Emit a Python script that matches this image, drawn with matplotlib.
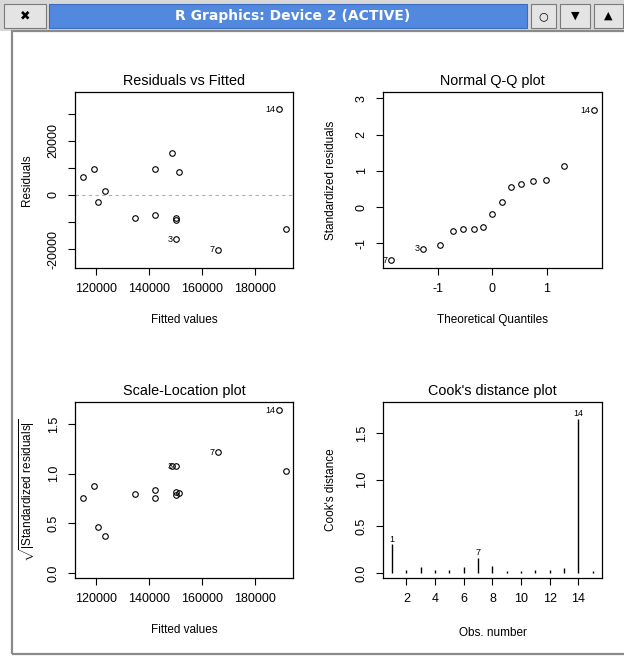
import numpy as np
import matplotlib
matplotlib.use('Agg')
import matplotlib.pyplot as plt
from matplotlib.patches import Rectangle

# data
fitted = [115320, 119360, 123500, 120980, 134830, 142380, 142380, 148680,
          151430, 150300, 150300, 150300, 165900, 188900, 191700]
resid = [6780, 9520, 1600, -2700, -8520, 9520, -7520, 15670,
         8640, -8630, -9370, -16400, -20370, 31850, -12480]
resid_lab = {11: "3", 12: "7", 13: "14"}

theo_q = [-1.846, -1.266, -0.960, -0.727, -0.532, -0.341, -0.165, 0.0,
          0.172, 0.349, 0.521, 0.741, 0.980, 1.316, 1.853]
std_res = [-1.467, -1.146, -1.036, -0.651, -0.588, -0.588, -0.550, -0.184,
           0.137, 0.558, 0.648, 0.722, 0.750, 1.143, 2.673]
qq_lab = {0: "7", 1: "3", 14: "14"}

sl_val = [0.759, 0.877, 0.374, 0.468, 0.793, 0.836, 0.759, 1.077,
          0.810, 0.816, 0.789, 1.077, 1.218, 1.640, 1.030]
sl_lab = {11: "3", 12: "7", 13: "14"}

obs = list(range(1, 16))
cook = [0.305, 0.035, 0.060, 0.030, 0.035, 0.060, 0.160, 0.070,
        0.017, 0.017, 0.035, 0.035, 0.054, 1.652, 0.020]
cook_lab = {0: "1", 6: "7", 13: "14"}

W, H = 624, 658
plt.rcParams['font.family'] = ['Liberation Sans', 'DejaVu Sans']
plt.rcParams['axes.unicode_minus'] = False
plt.rcParams['mathtext.fontset'] = 'custom'
plt.rcParams['mathtext.rm'] = 'Liberation Sans'
fig = plt.figure(figsize=(W / 100, H / 100), dpi=100)
fig.patch.set_facecolor('white')


def fx(x):
    return x / W


def fy(y):
    return 1 - y / H


def box(x0, y0, x1, y1, **kw):
    fig.add_artist(Rectangle((fx(x0), fy(y1)), fx(x1) - fx(x0), fy(y0) - fy(y1),
                             transform=fig.transFigure, **kw))


# window chrome
box(0, 0, W, 31, facecolor='#d8d8d8', edgecolor='none')
box(4, 4, 46, 28, facecolor='#e4e4e4', edgecolor='#7a7a7a', lw=0.8)
fig.text(fx(25), fy(16), u"\u2716", ha='center', va='center', fontsize=9,
         family='DejaVu Sans', color='black')
box(49, 4, 527, 28, facecolor='#5289df', edgecolor='#3a6cc0', lw=0.8)
fig.text(fx(293), fy(16), "R Graphics: Device 2 (ACTIVE)", ha='center', va='center',
         fontsize=10, weight='bold', family='DejaVu Sans', color='white')
for (a, b, sym) in [(531, 556, u"\u25cb"), (560, 590, u"\u25bc"), (594, 623, u"\u25b2")]:
    box(a, 4, b, 28, facecolor='#e4e4e4', edgecolor='#7a7a7a', lw=0.8)
    fig.text(fx((a + b) / 2), fy(16), sym, ha='center', va='center', fontsize=8,
             family='DejaVu Sans', color='black')
box(12, 31, W + 5, 654, facecolor='none', edgecolor='#8a8a8a', lw=1.6)


def make_ax(x0, y0, x1, y1):
    ax = fig.add_axes([fx(x0), fy(y1), fx(x1) - fx(x0), fy(y0) - fy(y1)])
    for s in ax.spines.values():
        s.set_linewidth(0.9)
    ax.tick_params(direction='out', length=5, width=0.8, labelsize=9, pad=6)
    return ax


def finish(ax, x0, y0, x1, y1, title, xlab, ylab, xlab_dy, ylab_dx):
    plt.setp(ax.get_yticklabels(), rotation=90, va='center')
    fig.text(fx((x0 + x1) / 2), fy(y0 - 11), title, ha='center', va='center', fontsize=10.4)
    fig.text(fx((x0 + x1) / 2), fy(y1 + xlab_dy), xlab, ha='center', va='center', fontsize=8.5)
    fig.text(fx(x0 - ylab_dx), fy((y0 + y1) / 2), ylab, ha='center', va='center',
             fontsize=8.5, rotation=90)


circ = dict(marker='o', ms=4, mfc='none', mec='black', mew=0.8, ls='none')
lab_fs = 6.5

# Residuals vs Fitted
p1 = (75, 92, 293, 268)
ax1 = make_ax(*p1)
ax1.axhline(0, color='#b0b0b0', lw=0.8, ls=(0, (3, 3)))
ax1.plot(fitted, resid, **circ)
for i, s in resid_lab.items():
    ax1.annotate(s, (fitted[i], resid[i]), xytext=(-2.5, 0), textcoords='offset points',
                 ha='right', va='center', fontsize=lab_fs)
ax1.set_xlim(112189, 194340)
ax1.set_ylim(-27037, 38148)
ax1.set_xticks([120000, 140000, 160000, 180000])
ax1.set_yticks([-20000, -10000, 0, 10000, 20000, 30000])
ax1.set_yticklabels(["-20000", "", "0", "", "20000", ""])
finish(ax1, *p1, "Residuals vs Fitted", "Fitted values", "Residuals", 52, 48)

# Normal Q-Q
p2 = (383, 92, 602, 268)
ax2 = make_ax(*p2)
ax2.plot(theo_q, std_res, **circ)
for i, s in qq_lab.items():
    ax2.annotate(s, (theo_q[i], std_res[i]), xytext=(-2.5, 0), textcoords='offset points',
                 ha='right', va='center', fontsize=lab_fs)
ax2.set_xlim(-2.0, 2.007)
ax2.set_ylim(-1.676, 3.176)
ax2.set_xticks([-1, 0, 1])
ax2.set_yticks([-1, 0, 1, 2, 3])
finish(ax2, *p2, "Normal Q-Q plot", "Theoretical Quantiles", "Standardized residuals", 52, 52)

# Scale-Location
p3 = (75, 402, 293, 578)
ax3 = make_ax(*p3)
ax3.plot(fitted, sl_val, **circ)
for i, s in sl_lab.items():
    ax3.annotate(s, (fitted[i], sl_val[i]), xytext=(-2.5, 0), textcoords='offset points',
                 ha='right', va='center', fontsize=lab_fs)
ax3.set_xlim(112189, 194340)
ax3.set_ylim(-0.05, 1.723)
ax3.set_xticks([120000, 140000, 160000, 180000])
ax3.set_yticks([0, 0.5, 1.0, 1.5])
ax3.set_yticklabels(["0.0", "0.5", "1.0", "1.5"])
finish(ax3, *p3, "Scale-Location plot", "Fitted values",
       r"$\sqrt{|\mathrm{Standardized\ residuals}|}$", 52, 48)

# Cook's distance
p4 = (383, 402, 602, 578)
ax4 = make_ax(*p4)
ax4.vlines(obs, 0, cook, colors='black', lw=1)
for i, s in cook_lab.items():
    ax4.annotate(s, (obs[i], cook[i]), xytext=(0, 0.5), textcoords='offset points',
                 ha='center', va='bottom', fontsize=lab_fs)
ax4.set_xlim(0.364, 15.64)
ax4.set_ylim(-0.054, 1.832)
ax4.set_xticks([2, 4, 6, 8, 10, 12, 14])
ax4.set_yticks([0, 0.5, 1.0, 1.5])
ax4.set_yticklabels(["0.0", "0.5", "1.0", "1.5"])
finish(ax4, *p4, "Cook's distance plot", "Obs. number", "Cook's distance", 55, 52)

plt.savefig('out.png', dpi=100)
